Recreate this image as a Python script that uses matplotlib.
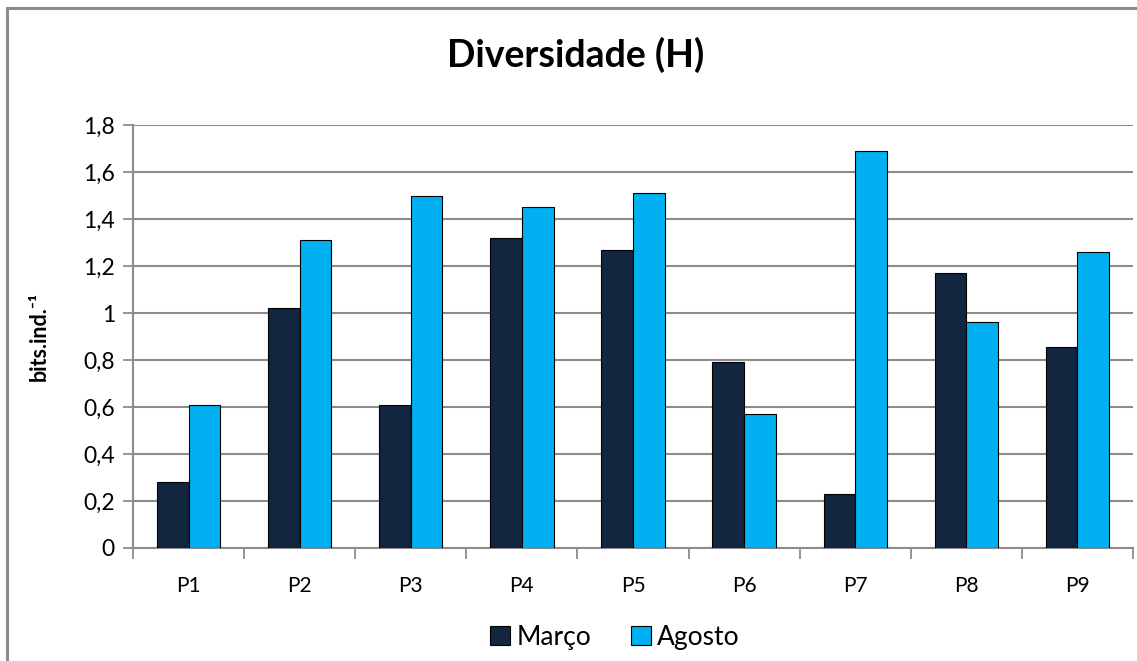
import numpy as np
import matplotlib.pyplot as plt
from matplotlib.patches import Rectangle
from matplotlib.ticker import FuncFormatter

# valores de diversidade por ponto de coleta
pontos = ['P1', 'P2', 'P3', 'P4', 'P5', 'P6', 'P7', 'P8', 'P9']
marco = [0.28, 1.02, 0.61, 1.32, 1.27, 0.79, 0.23, 1.17, 0.855]
agosto = [0.61, 1.31, 1.50, 1.45, 1.51, 0.57, 1.69, 0.96, 1.26]

plt.rcParams['font.family'] = ['Lato', 'DejaVu Sans']

fig = plt.figure(figsize=(11.37, 6.61), dpi=100)
ax = fig.add_axes([133 / 1137, 1 - 548 / 661, 1000 / 1137, 423 / 661])

# moldura externa do gráfico
fig.patches.append(Rectangle((7 / 1137, -0.1), 1.2, 1 - 8 / 661 + 0.1,
                             transform=fig.transFigure, fill=False,
                             edgecolor='#8c8c8c', linewidth=2.2))

x = np.arange(len(pontos))
w = 0.285
ax.bar(x - w / 2, marco, w, color='#12263f', edgecolor='black', linewidth=0.8,
       label='Março', zorder=3)
ax.bar(x + w / 2, agosto, w, color='#00b0f0', edgecolor='black', linewidth=0.8,
       label='Agosto', zorder=3)

ax.set_xlim(-0.5, len(pontos) - 0.5)
ax.set_ylim(0, 1.8)
ax.set_yticks(np.arange(0, 1.81, 0.2))
ax.yaxis.set_major_formatter(FuncFormatter(
    lambda v, p: '0' if abs(v) < 1e-9 else ('1' if abs(v - 1) < 1e-9 else f'{v:.1f}'.replace('.', ','))))
ax.grid(axis='y', color='#8c8c8c', linewidth=1.5, zorder=0)

# rótulos das categorias centralizados, ticks nas divisões
ax.set_xticks(x)
ax.set_xticklabels(pontos)
ax.tick_params(axis='x', length=0, pad=20, labelsize=15)
ax.set_xticks(np.arange(-0.5, len(pontos)), minor=True)
ax.tick_params(axis='x', which='minor', length=8, width=1.3, color='#8c8c8c')
ax.tick_params(axis='y', length=7, width=1.3, color='#8c8c8c', labelsize=16.5, pad=6)

for s in ['top', 'right']:
    ax.spines[s].set_visible(False)
for s in ['left', 'bottom']:
    ax.spines[s].set_color('#8c8c8c')
    ax.spines[s].set_linewidth(1.5)

ax.set_ylabel('bits.ind.⁻¹', fontsize=15.5, fontweight='bold')
ax.yaxis.set_label_coords(-83 / 1000, 0.5)
fig.text(576 / 1137, 1 - 55 / 661, 'Diversidade (H)', ha='center', va='center',
         fontsize=27, fontweight='bold')

fig.legend(loc='center', bbox_to_anchor=(615 / 1137, 1 - 637 / 661), ncol=2,
           frameon=False, fontsize=19, handlelength=0.75, handleheight=0.75,
           handletextpad=0.25, columnspacing=1.5)

fig.savefig('out.png', dpi=100)
